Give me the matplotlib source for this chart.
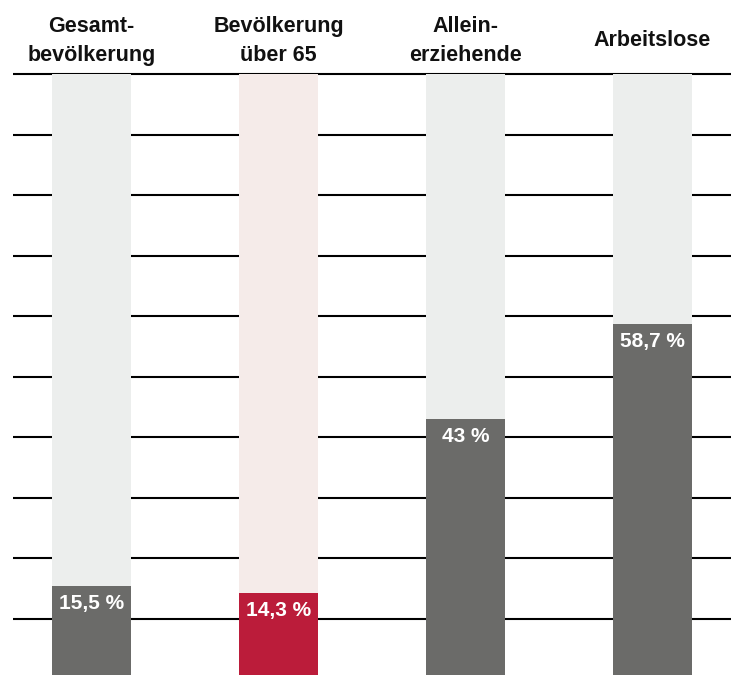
import matplotlib
matplotlib.use("Agg")
import matplotlib.pyplot as plt

categories = ["Gesamt-\nbevölkerung", "Bevölkerung\nüber 65", "Allein-\nerziehende", "Arbeitslose"]
values = [15.5, 14.3, 43.0, 58.7]
value_labels = ["15,5 %", "14,3 %", "43 %", "58,7 %"]
fg_colors = ["#6b6b69", "#bb1c3a", "#6b6b69", "#6b6b69"]
bg_colors = ["#eceeed", "#f5ebe9", "#eceeed", "#eceeed"]
gridlines = [10, 20, 30, 40, 50, 60, 70, 80, 90, 100]

plt.rcParams['font.family'] = ['Liberation Sans', 'DejaVu Sans']

W, H = 738, 675
fig = plt.figure(figsize=(W / 100, H / 100), dpi=100)
ax = fig.add_axes([0, 0, 1, 1])
ax.set_axis_off()

px_x = 187.0
x0 = 91.5
ax.set_xlim(-x0 / px_x, (W - x0) / px_x)
zero_px = 679.5
px_y = 6.055
ax.set_ylim((zero_px - H) / px_y, zero_px / px_y)

pos = list(range(len(categories)))
bw = 79 / px_x

ax.hlines(gridlines, (13 - x0) / px_x, (731 - x0) / px_x, color="black", lw=1.5, zorder=1)
ax.bar(pos, [100] * len(pos), width=bw, color=bg_colors, zorder=2)
ax.bar(pos, values, width=bw, color=fg_colors, zorder=3)

for p, v, lab in zip(pos, values, value_labels):
    ax.annotate(lab, (p, v), xytext=(0, -6), textcoords="offset points",
                ha="center", va="top", color="white", fontsize=15,
                fontweight="bold", zorder=4)

for p, c in zip(pos, categories):
    ax.text(p, (zero_px - 41) / px_y, c, ha="center", va="center",
            fontsize=15.5, fontweight="bold", linespacing=1.55, color="#111111")

fig.savefig("out.png", dpi=100)
